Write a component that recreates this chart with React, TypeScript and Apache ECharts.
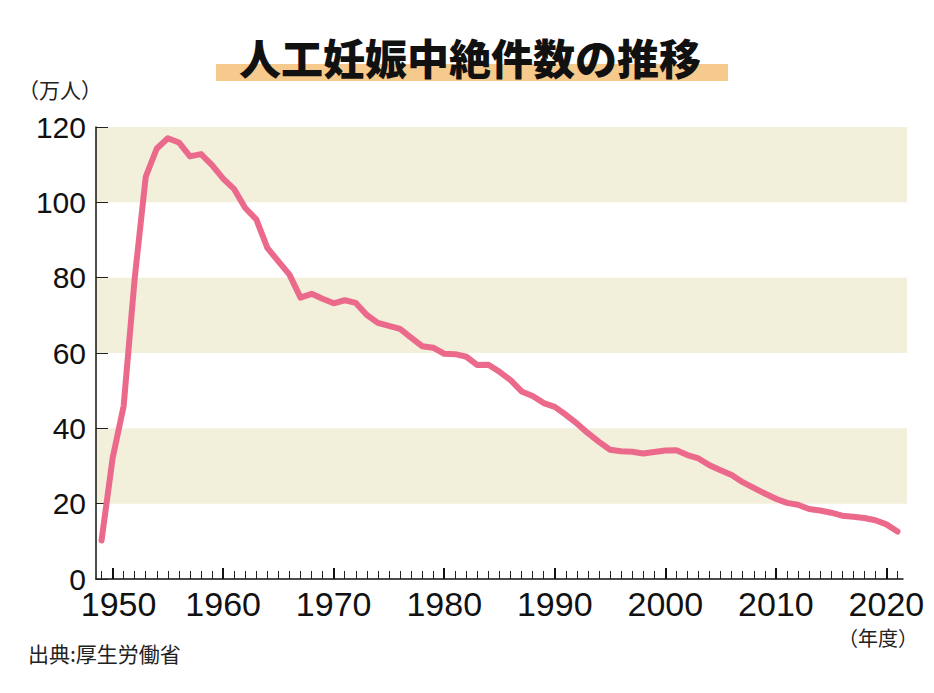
import React, { useEffect, useRef } from "react";
import * as echarts from "echarts";

const titleText = "人工妊娠中絶件数の推移";
const yUnit = "（万人）";
const xUnit = "（年度）";
const sourceText = "出典:厚生労働省";

const years: string[] = [];
for (let y = 1949; y <= 2021; y++) years.push(String(y));

// 人工妊娠中絶件数（万人）
const abortions = [
  10.2, 32.0, 45.9, 79.8, 106.8, 114.3, 117.0, 115.9, 112.2, 112.8,
  109.9, 106.3, 103.5, 98.5, 95.5, 87.9, 84.3, 80.8, 74.7, 75.7,
  74.4, 73.2, 74.0, 73.3, 70.1, 68.0, 67.2, 66.4, 64.1, 61.8,
  61.4, 59.8, 59.7, 59.0, 56.8, 56.9, 55.0, 52.8, 49.8, 48.6,
  46.7, 45.7, 43.6, 41.3, 38.7, 36.4, 34.3, 33.9, 33.8, 33.3,
  33.7, 34.1, 34.2, 32.9, 32.0, 30.2, 28.9, 27.6, 25.7, 24.2,
  22.7, 21.3, 20.2, 19.7, 18.6, 18.2, 17.6, 16.8, 16.5, 16.2,
  15.6, 14.5, 12.6,
];

const yTicks = [0, 20, 40, 60, 80, 100, 120];

const xLabelFont = "Liberation Sans Narrow, Liberation Sans, sans-serif";

export default function App() {
  const ref = useRef<HTMLDivElement>(null);
  useEffect(() => {
    if (!ref.current) return;
    const chart = echarts.init(ref.current, null, { renderer: "svg" });
    const isDecade = (_i: number, v: string) => Number(v) % 10 === 0;
    chart.setOption({
      animation: false,
      backgroundColor: "#ffffff",
      grid: [
        { left: 96, right: 27, top: 127, bottom: 114 },
        { left: 96, right: 31, top: 127, bottom: 114 },
      ],
      xAxis: [
        { type: "value", gridIndex: 0, show: false, min: 0, max: 1 },
        {
          type: "category",
          gridIndex: 1,
          data: years,
          boundaryGap: true,
          axisLine: { show: true, lineStyle: { color: "#111", width: 1.5 } },
          axisTick: {
            show: true,
            inside: true,
            alignWithLabel: true,
            interval: 0,
            length: 8,
            lineStyle: { color: "#222", width: 1 },
          },
          axisLabel: {
            interval: isDecade,
            margin: 12,
            fontSize: 34,
            lineHeight: 26,
            fontFamily: xLabelFont,
            color: "#111",
            formatter: (v: string) => (v === years[1] ? "{first|" + v + "}" : v),
            rich: {
              first: {
                fontSize: 34,
                lineHeight: 26,
                fontFamily: xLabelFont,
                color: "#111",
                padding: [0, 0, 0, 12],
              },
            },
          },
        },
        {
          type: "category",
          gridIndex: 1,
          data: years,
          boundaryGap: true,
          axisLine: { show: false },
          axisTick: {
            show: true,
            inside: true,
            alignWithLabel: true,
            interval: isDecade,
            length: 11,
            lineStyle: { color: "#111", width: 2 },
          },
          axisLabel: { show: false },
          position: "bottom",
        },
      ],
      yAxis: [
        {
          type: "value",
          gridIndex: 0,
          min: 0,
          max: 120,
          interval: 20,
          axisLine: { show: false },
          axisTick: { show: false },
          axisLabel: { show: false },
          splitLine: { show: false },
          splitArea: {
            show: true,
            areaStyle: { color: ["rgba(255,255,255,0)", "#F2EFDA"] },
          },
        },
        {
          type: "value",
          gridIndex: 1,
          min: 0,
          max: 120,
          interval: 20,
          axisLine: { show: true, lineStyle: { color: "#111", width: 1.5 } },
          axisTick: {
            show: true,
            inside: true,
            length: 12,
            lineStyle: { color: "#222", width: 1 },
          },
          axisLabel: {
            margin: 10,
            fontSize: 30,
            lineHeight: 22,
            fontFamily: "Liberation Sans, Arial, sans-serif",
            color: "#111",
            customValues: yTicks,
          },
          splitLine: { show: false },
        },
      ],
      series: [
        {
          type: "line",
          xAxisIndex: 1,
          yAxisIndex: 1,
          data: abortions,
          showSymbol: false,
          symbol: "none",
          lineStyle: { color: "#EB6A8C", width: 6, cap: "round", join: "round" },
          z: 5,
        },
      ],
      graphic: [
        {
          type: "rect",
          shape: { x: 216, y: 64, width: 512, height: 17 },
          style: { fill: "#F6C98C" },
          z: 1,
        },
        {
          type: "text",
          x: 470,
          y: 56,
          style: {
            text: titleText,
            fontSize: 42,
            fontWeight: 900,
            fontFamily: "Noto Sans CJK JP, sans-serif",
            fill: "#111",
            align: "center",
            verticalAlign: "middle",
          },
          z: 2,
        },
        {
          type: "text",
          x: 18,
          y: 89,
          style: {
            text: yUnit,
            fontSize: 21,
            fontFamily: "Noto Sans CJK JP, sans-serif",
            fill: "#222",
            align: "left",
            verticalAlign: "middle",
          },
        },
        {
          type: "text",
          x: 918,
          y: 637,
          style: {
            text: xUnit,
            fontSize: 20,
            fontFamily: "Noto Sans CJK JP, sans-serif",
            fill: "#222",
            align: "right",
            verticalAlign: "middle",
          },
        },
        {
          type: "text",
          x: 28,
          y: 653,
          style: {
            text: sourceText,
            fontSize: 21,
            fontFamily: "Noto Sans CJK JP, sans-serif",
            fill: "#222",
            align: "left",
            verticalAlign: "middle",
          },
        },
      ],
    });
    return () => chart.dispose();
  }, []);
  return (
    <div
      ref={ref}
      style={{ position: "fixed", left: 0, top: 0, width: 934, height: 693, background: "#fff" }}
    />
  );
}
